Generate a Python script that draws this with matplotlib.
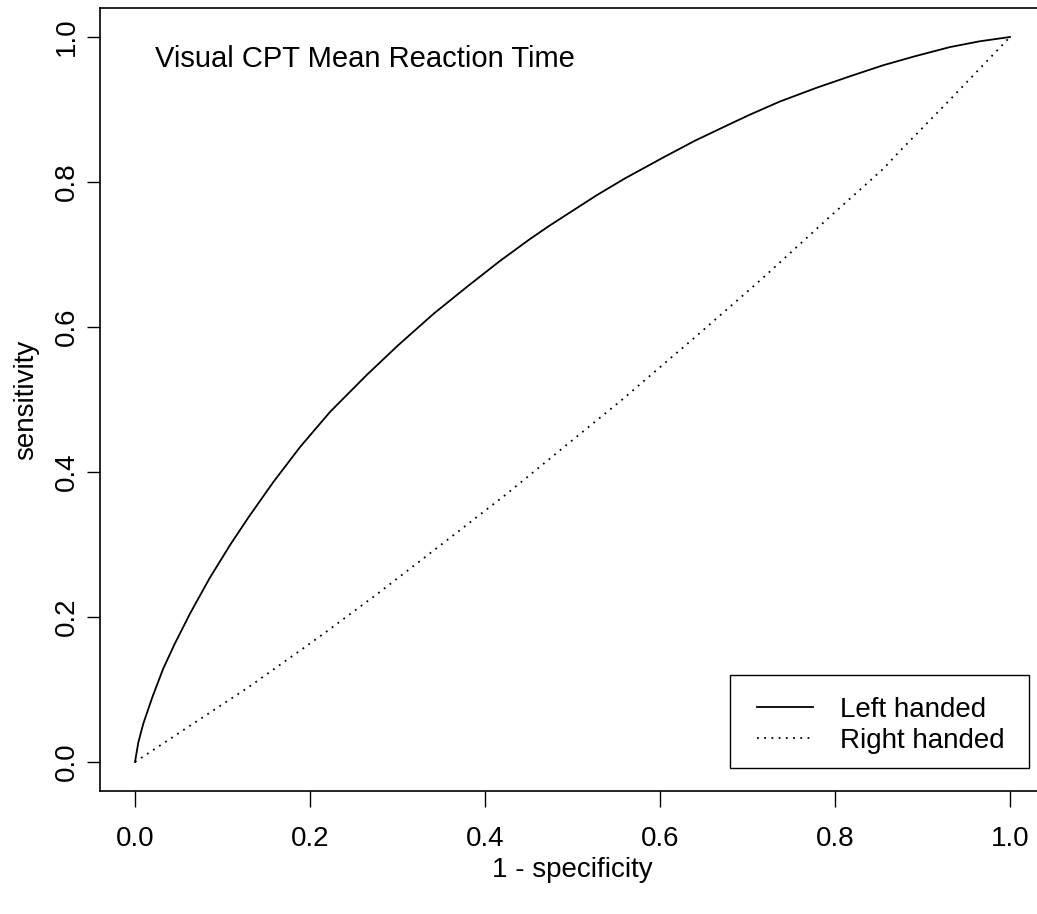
import matplotlib
matplotlib.use("Agg")
import matplotlib.pyplot as plt
from matplotlib.patches import Rectangle

plt.rcParams['font.family'] = ['Liberation Sans', 'DejaVu Sans']

# ROC curve points (1 - specificity, sensitivity)
left_fpr = [0.0, 0.0038, 0.0095, 0.02, 0.032, 0.045, 0.063, 0.085, 0.109, 0.13,
            0.158, 0.189, 0.223, 0.265, 0.30, 0.341, 0.38, 0.417, 0.451, 0.474,
            0.528, 0.56, 0.604, 0.64, 0.680, 0.703, 0.737, 0.779, 0.82, 0.855,
            0.89, 0.931, 0.965, 1.0]
left_tpr = [0.0, 0.027, 0.053, 0.090, 0.128, 0.162, 0.205, 0.253, 0.300, 0.338,
            0.386, 0.435, 0.483, 0.534, 0.574, 0.618, 0.656, 0.691, 0.721, 0.740,
            0.782, 0.805, 0.834, 0.857, 0.880, 0.893, 0.911, 0.930, 0.947, 0.961,
            0.973, 0.986, 0.994, 1.0]

right_fpr = [0.0, 0.1295, 0.196, 0.219, 0.276, 0.347, 0.425, 0.500, 0.555, 0.583,
             0.643, 0.717, 0.756, 0.794, 0.855, 0.872, 0.931, 1.0]
right_tpr = [0.0, 0.103, 0.160, 0.180, 0.231, 0.297, 0.370, 0.444, 0.498, 0.527,
             0.589, 0.667, 0.710, 0.752, 0.818, 0.840, 0.913, 1.0]

series_labels = ["Left handed", "Right handed"]
ticks = [0.0, 0.2, 0.4, 0.6, 0.8, 1.0]
tick_labels = ["0.0", "0.2", "0.4", "0.6", "0.8", "1.0"]
title_text = "Visual CPT Mean Reaction Time"

W, H = 1037, 914
fig = plt.figure(figsize=(W / 100, H / 100), dpi=100)
# plot region runs past the right edge of the image, as in the reference
ax = fig.add_axes([100 / W, (H - 791) / H, (1045 - 100) / W, (791 - 8) / H])

ax.plot(left_fpr, left_tpr, color="black", lw=1.3, label=series_labels[0])
ax.plot(right_fpr, right_tpr, color="black", lw=1.3, linestyle=(0, (1, 3)),
        label=series_labels[1])

ax.set_xlim(-0.04, 1.04)
ax.set_ylim(-0.04, 1.04)
ax.set_xticks(ticks)
ax.set_xticklabels(tick_labels)
ax.set_yticks(ticks)
ax.set_yticklabels(tick_labels, rotation=90, va="center")
ax.tick_params(axis="x", length=11.5, width=1.0, pad=14, labelsize=20)
ax.tick_params(axis="y", length=9.4, width=1.0, pad=5, labelsize=20)
for sp in ax.spines.values():
    sp.set_linewidth(1.2)

ax.set_xlabel("1 - specificity", fontsize=20, labelpad=3)
ax.set_ylabel("sensitivity", fontsize=20, labelpad=11)

ax.text(0.023, 0.969, title_text, fontsize=21, ha="left", va="center")

# legend entries without frame, box drawn separately (wider side padding than top/bottom)
leg = ax.legend(loc="lower right", bbox_to_anchor=(1005 / W, (H - 754) / H),
                bbox_transform=fig.transFigure, borderaxespad=0, borderpad=0,
                fontsize=20, frameon=False,
                handlelength=2.0, handletextpad=1.0, labelspacing=0.18)
fig.add_artist(Rectangle((730 / W, (H - 768) / H), 299 / W, 93 / H,
                         transform=fig.transFigure, fill=False,
                         edgecolor="black", linewidth=1.0))

fig.savefig("out.png", dpi=100)
